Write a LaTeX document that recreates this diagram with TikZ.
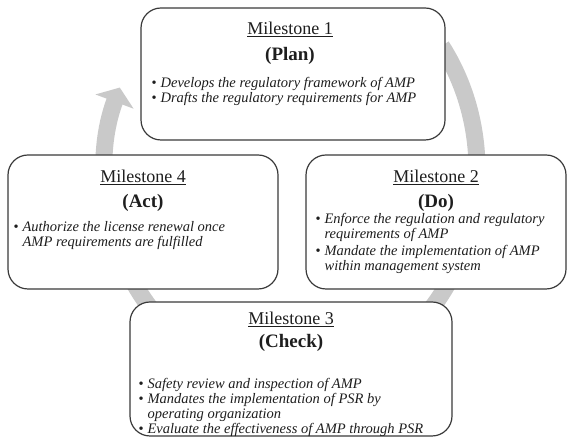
\documentclass[tikz,border=0pt]{standalone}
\usepackage{fontspec}
\setmainfont{Liberation Serif}
\usetikzlibrary{arrows.meta}

\definecolor{ringgray}{HTML}{C9C9C9}
\definecolor{boxline}{HTML}{3A3A3A}
\definecolor{textdark}{HTML}{1E1E1E}

\tikzset{
  milestone/.style={draw=boxline, line width=1.2pt, rounded corners=20pt, fill=white, inner sep=0pt},
  mstitle/.style={font=\fontsize{18}{20}\selectfont, text=textdark, inner sep=0pt, anchor=base},
  msphase/.style={font=\fontsize{19}{21}\selectfont\bfseries, text=textdark, inner sep=0pt, anchor=base},
  mstext/.style={font=\fontsize{14.5}{15}\selectfont\itshape, text=textdark, align=left, inner sep=0pt, anchor=north west},
}
\newcommand{\msdot}{\makebox[9pt][l]{\upshape\textbullet}}
\newcommand{\mshang}{\hspace*{9pt}}

\begin{document}
\begin{tikzpicture}[x=1pt,y=1pt]
    \useasboundingbox (0,0) rectangle (570,438);
    % PDCA ring behind the boxes
    \coordinate (ctr) at (291,268);
    \draw[ringgray, line width=17pt, -{Triangle[width=40pt,length=15pt]}]
        ([shift={(36:186pt and 211pt)}]ctr) arc[start angle=36, end angle=-203, x radius=186pt, y radius=211pt];

    % Milestone boxes
    \node[milestone, minimum width=304pt, minimum height=132pt] (plan) at (293,364) {};
    \node[milestone, minimum width=260pt, minimum height=134pt] (do) at (436,216) {};
    \node[milestone, minimum width=322pt, minimum height=134pt] (check) at (291,69) {};
    \node[milestone, minimum width=270pt, minimum height=134pt] (act) at (143,216) {};

    % Milestone 1
    \node[mstitle] (plan title) at ([xshift=-3pt,yshift=-27pt]plan.north) {\underline{Milestone 1}};
    \node[msphase] (plan phase) at ([xshift=-3pt,yshift=-53pt]plan.north) {(Plan)};
    \node[mstext] (plan text) at ([xshift=11pt,yshift=-70pt]plan.north west)
        {\msdot Develops the regulatory framework of AMP\\
         \msdot Drafts the regulatory requirements for AMP};

    % Milestone 2
    \node[mstitle] (do title) at ([yshift=-28pt]do.north) {\underline{Milestone 2}};
    \node[msphase] (do phase) at ([yshift=-53pt]do.north) {(Do)};
    \node[mstext] (do text) at ([xshift=10pt,yshift=-59pt]do.north west)
        {\msdot Enforce the regulation and regulatory\\
         \mshang requirements of AMP\\[2pt]
         \msdot Mandate the implementation of AMP\\
         \mshang within management system};

    % Milestone 3
    \node[mstitle] (check title) at ([yshift=-23pt]check.north) {\underline{Milestone 3}};
    \node[msphase] (check phase) at ([yshift=-46pt]check.north) {(Check)};
    \node[mstext] (check text) at ([xshift=9pt,yshift=-77pt]check.north west)
        {\msdot Safety review and inspection of AMP\\
         \msdot Mandates the implementation of PSR by\\
         \mshang operating organization\\
         \msdot Evaluate the effectiveness of AMP through PSR};

    % Milestone 4
    \node[mstitle] (act title) at ([yshift=-28pt]act.north) {\underline{Milestone 4}};
    \node[msphase] (act phase) at ([yshift=-53pt]act.north) {(Act)};
    \node[mstext] (act text) at ([xshift=6pt,yshift=-67pt]act.north west)
        {\msdot Authorize the license renewal once\\
         \mshang AMP requirements are fulfilled};
\end{tikzpicture}
\end{document}
